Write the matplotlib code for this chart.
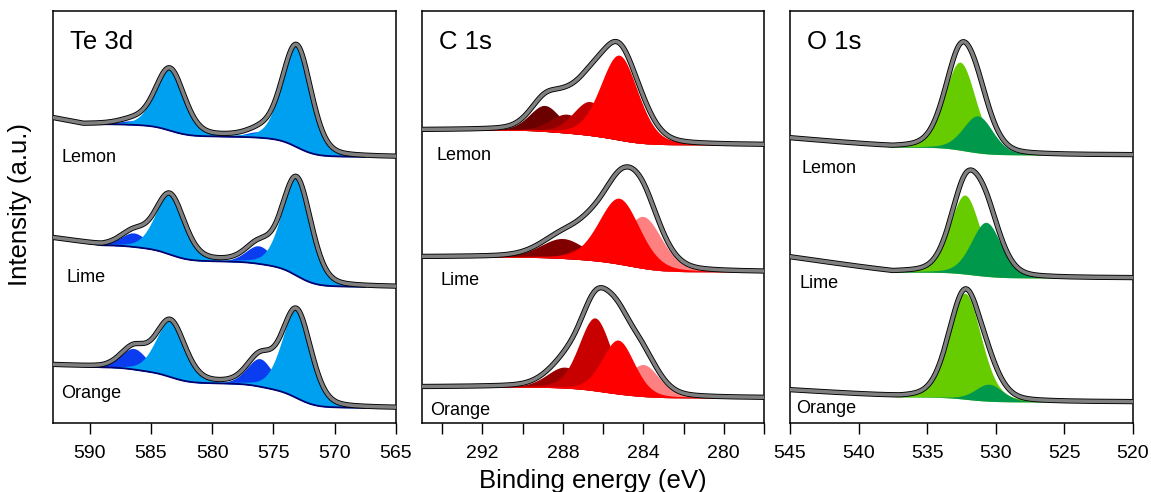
import matplotlib
matplotlib.use("Agg")
import matplotlib.pyplot as plt
import numpy as np

plt.rcParams["font.family"] = ["Liberation Sans", "DejaVu Sans"]

# ---------------------------------------------------------------- data ----
SAMPLES = ["Lemon", "Lime", "Orange"]

# Te 3d: peaks = [Te0 3d5/2, Te0 3d3/2, TeO2 3d5/2, TeO2 3d3/2]
TE_CENTERS = [[573.1, 583.45, 576.1, 586.5],
              [573.1, 583.45, 576.2, 586.4],
              [573.1, 583.4, 576.1, 586.4]]
TE_FWHM = [[2.8, 2.8, 2.6, 2.6],
           [2.8, 2.8, 2.5, 2.5],
           [2.8, 2.8, 2.5, 2.5]]
TE_HEIGHTS = [[102, 62, 6, 4],
              [98, 60, 18, 14],
              [88, 56, 28, 21]]
TE_BG_LOW = [266, 136, 15]
TE_BG_HIGH = [299, 178, 56]
TE_RISE = [6, 7, 2]
TE_RISE_FROM = [590.5, 589.0, 589.0]

# C 1s: peaks = [284.0, 289, 288, 286.5, 285.2]
C_CENTERS = [[284.0, 288.9, 287.8, 286.65, 285.2],
             [284.0, 289.2, 288.0, 286.7, 285.2],
             [284.0, 289.5, 287.9, 286.4, 285.25]]
C_FWHM = [[1.8, 1.8, 2.0, 2.0, 2.2],
          [2.2, 2.0, 2.6, 2.0, 2.4],
          [1.9, 2.0, 2.1, 1.9, 1.9]]
C_HEIGHTS = [[8, 26, 19, 34, 85],
             [52, 0, 20, 14, 66],
             [32, 0, 21, 73, 54]]
C_BG_LOW = [278, 151, 25]
C_BG_HIGH = [293, 166, 36]

# O 1s: peaks = [532.5, 531]
O_CENTERS = [[532.6, 531.3],
             [532.25, 530.7],
             [532.25, 530.5]]
O_FWHM = [[2.7, 2.6],
          [2.6, 2.6],
          [2.8, 2.4]]
O_HEIGHTS = [[88, 37],
             [79, 54],
             [106, 17]]
O_BG_LOW = [268, 145, 21]
O_BG_HIGH = [276, 151, 26]
O_RISE = [9, 15, 7]
O_RISE_FROM = [537.5, 537.5, 537.0]

# ---------------------------------------------------------------- style ---
TE_COLORS = ["#00A0F0", "#00A0F0", "#0A3CF0", "#0A3CF0"]
TE_ORDER = [2, 3, 0, 1]
C_COLORS_BY_SAMPLE = [
    ["#FF8080", "#6B0000", "#900000", "#C00000", "#FF0000"],
    ["#FF8080", "#6B0000", "#800000", "#C00000", "#FF0000"],
    ["#FF8080", "#6B0000", "#9A0000", "#C80000", "#FF0000"],
]
C_ORDER = [0, 1, 2, 3, 4]
O_COLORS = ["#66CC00", "#00994C"]
O_ORDER = [0, 1]
ENV_GRAY = "#808080"


def gl(x, c, w, h, m=0.25):
    """Gaussian-Lorentzian peak from centre, FWHM and height."""
    d = (x - c) / w
    return h * ((1 - m) * np.exp(-4 * np.log(2) * d ** 2) + m / (1 + 4 * d ** 2))


def background(x, comps, lo, hi, rise=0.0, rise_from=None):
    """Shirley-type step from the component areas, plus the high-BE rise."""
    total = np.sum(comps, axis=0)
    cum = np.cumsum(total)
    bg = lo + (hi - lo) * cum / cum[-1]
    if rise and rise_from is not None:
        bg = bg + rise * np.clip((x - rise_from) / (x.max() - rise_from), 0, 1)
    return bg


def draw_panel(ax, x, centers, fwhm, heights, lows, highs, colors, order,
               window, rises=None, rise_from=None, bg_line=None):
    for i in range(3):
        comps = [gl(x, c, w, h) for c, w, h in zip(centers[i], fwhm[i], heights[i])]
        r = rises[i] if rises else 0.0
        rf = rise_from[i] if rise_from else None
        bg = background(x, comps, lows[i], highs[i], r, rf)
        env = bg + np.sum(comps, axis=0)
        m = (x >= window[0]) & (x <= window[1])
        cols = colors[i] if isinstance(colors[0], list) else colors
        for k in order:
            if heights[i][k] <= 0:
                continue
            ax.fill_between(x[m], bg[m], bg[m] + comps[k][m], color=cols[k], lw=0, zorder=2)
        if bg_line:
            ax.plot(x[m], bg[m], color=bg_line, lw=1.3, zorder=3)
        ax.plot(x, env, color="black", lw=3.8, zorder=4, solid_capstyle="round")
        ax.plot(x, env, color=ENV_GRAY, lw=2.5, zorder=5, solid_capstyle="round")


def style_axes(ax, xlim, ticks, minor=None):
    ax.set_xlim(*xlim)
    ax.set_ylim(0, 412)
    ax.set_yticks([])
    ax.set_xticks(ticks)
    ax.set_xticklabels([str(t) for t in ticks])
    if minor is not None:
        ax.set_xticks(minor, minor=True)
    ax.tick_params(axis="x", which="both", direction="out", length=8, width=1,
                   labelsize=14, pad=8)
    for s in ax.spines.values():
        s.set_linewidth(1.1)


def main():
    fig = plt.figure(figsize=(11.51, 4.92), dpi=100)
    h = 412 / 492
    b = 69 / 492
    ax1 = fig.add_axes([53 / 1151, b, 343 / 1151, h])
    ax2 = fig.add_axes([422 / 1151, b, 342 / 1151, h])
    ax3 = fig.add_axes([790 / 1151, b, 343 / 1151, h])

    x_te = np.linspace(565, 593, 700)
    draw_panel(ax1, x_te, TE_CENTERS, TE_FWHM, TE_HEIGHTS, TE_BG_LOW, TE_BG_HIGH,
               TE_COLORS, TE_ORDER, (567.5, 590.5), TE_RISE, TE_RISE_FROM, bg_line="#000070")
    style_axes(ax1, (593, 565), [590, 585, 580, 575, 570, 565])

    x_c = np.linspace(278, 295, 700)
    draw_panel(ax2, x_c, C_CENTERS, C_FWHM, C_HEIGHTS, C_BG_LOW, C_BG_HIGH,
               C_COLORS_BY_SAMPLE, C_ORDER, (279.5, 292.5))
    style_axes(ax2, (295, 278), [292, 288, 284, 280], minor=[294, 290, 286, 282, 278])

    x_o = np.linspace(520, 545, 700)
    draw_panel(ax3, x_o, O_CENTERS, O_FWHM, O_HEIGHTS, O_BG_LOW, O_BG_HIGH,
               O_COLORS, O_ORDER, (524.5, 538.0), O_RISE, O_RISE_FROM)
    style_axes(ax3, (545, 520), [545, 540, 535, 530, 525, 520])

    # panel titles
    for ax, title in zip([ax1, ax2, ax3], ["Te 3d", "C 1s", "O 1s"]):
        ax.text(0.05, 374 / 412, title, transform=ax.transAxes, fontsize=18.5,
                va="baseline", ha="left")

    # sample labels under each spectrum
    label_y = [[261, 141, 25], [263, 138, 8], [250, 135, 10]]
    label_x = [[0.025, 0.04, 0.025], [0.043, 0.053, 0.023], [0.034, 0.029, 0.018]]
    for ax, ys, xs in zip([ax1, ax2, ax3], label_y, label_x):
        for s, yy, xx in zip(SAMPLES, ys, xs):
            ax.text(xx, yy / 412, s, transform=ax.transAxes, fontsize=13,
                    va="baseline", ha="left", zorder=6)

    fig.text(593 / 1151, 4 / 492, "Binding energy (eV)", fontsize=18.5,
             ha="center", va="baseline")
    fig.text(20 / 1151, (492 - 205) / 492, "Intensity (a.u.)", fontsize=18.5,
             ha="center", va="center", rotation=90)

    fig.savefig("out.png", dpi=100)
    plt.close(fig)


if __name__ == "__main__":
    main()
